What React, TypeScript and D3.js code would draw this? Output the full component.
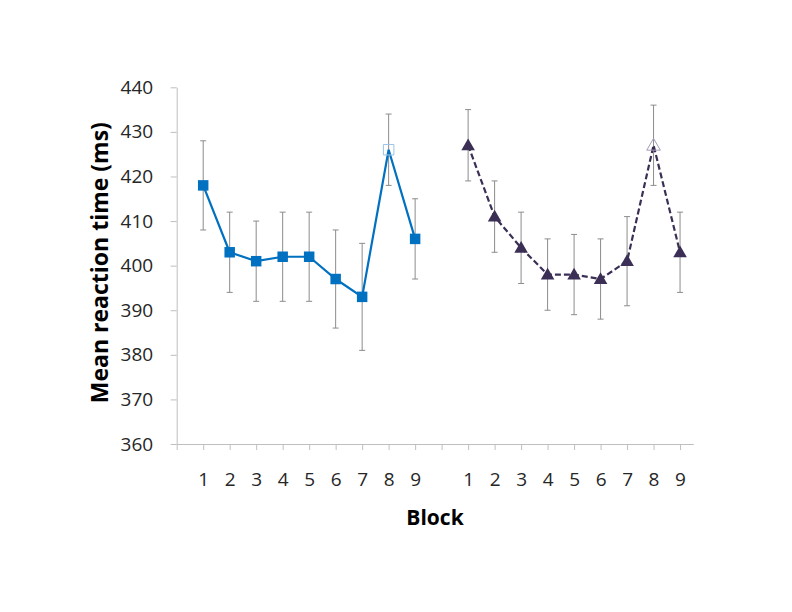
import React, { useEffect, useRef } from 'react';
import * as d3 from 'd3';

// block labels, one group of 9 per condition
const blocks = ['1', '2', '3', '4', '5', '6', '7', '8', '9'];
// x slots: an empty slot before each group
const slots = ['', ...blocks, '', ...blocks];

const meanA = [418, 403, 401, 402, 402, 397, 393, 426, 406];
const errA = [10, 9, 9, 10, 10, 11, 12, 8, 9];
const meanB = [427, 411, 404, 398, 398, 397, 401, 427, 403];
const errB = [8, 8, 8, 8, 9, 9, 10, 9, 9];

const yTicks = [360, 370, 380, 390, 400, 410, 420, 430, 440];
const hollowBlock = '8';

const App = () => {
  const ref = useRef<SVGSVGElement>(null);

  useEffect(() => {
    const svg = d3.select(ref.current);
    svg.selectAll('*').remove();

    const left = 176.7, right = 693.3, top = 87.3, bottom = 444;
    const font = '"Open Sans", sans-serif';

    const x = d3.scaleLinear().domain([0, 19.5]).range([left, right]);
    const y = d3.scaleLinear().domain([360, 440]).range([bottom, top]);

    // y axis
    const yAxis = svg.append('g')
      .attr('transform', `translate(${left},0)`)
      .call(d3.axisLeft(y).tickValues(yTicks).tickSize(6).tickPadding(17.5).tickSizeOuter(0));
    yAxis.select('.domain').attr('stroke', '#bfbfbf');
    yAxis.selectAll('.tick line').attr('stroke', '#bfbfbf');
    yAxis.selectAll('.tick text')
      .attr('font-family', font).attr('font-size', 19).attr('fill', '#262626');

    // x axis
    const xAxis = svg.append('g')
      .attr('transform', `translate(0,${bottom})`)
      .call(d3.axisBottom(x)
        .tickValues(d3.range(slots.length))
        .tickFormat((i: any) => slots[i])
        .tickSize(6).tickPadding(23).tickSizeOuter(0));
    xAxis.select('.domain').attr('stroke', '#bfbfbf');
    xAxis.selectAll('.tick line').attr('stroke', '#bfbfbf');
    xAxis.selectAll('.tick text')
      .attr('font-family', font).attr('font-size', 19).attr('fill', '#262626');

    // axis titles
    svg.append('text')
      .attr('x', (left + right) / 2).attr('y', 525)
      .attr('text-anchor', 'middle')
      .attr('font-family', font).attr('font-weight', 'bold').attr('font-size', 21)
      .attr('fill', '#000')
      .text('Block');

    svg.append('text')
      .attr('transform', `translate(108,${(top + bottom) / 2 - 3}) rotate(-90)`)
      .attr('text-anchor', 'middle')
      .attr('font-family', font).attr('font-weight', 'bold').attr('font-size', 23)
      .attr('fill', '#000')
      .text('Mean reaction time (ms)');

    const groups = [
      { mean: meanA, err: errA, offset: 1, color: '#0070c0', light: '#9dc3e6', dash: null, marker: 'square' },
      { mean: meanB, err: errB, offset: 11, color: '#3b2f55', light: '#a39cb8', dash: '6,3', marker: 'triangle' },
    ];

    groups.forEach(g => {
      const pts = blocks.map((b, i) => ({ b, i: i + g.offset, v: g.mean[i], e: g.err[i] }));

      // error bars
      const eb = svg.append('g').attr('stroke', '#8c8c8c').attr('stroke-width', 1);
      pts.forEach(p => {
        eb.append('line')
          .attr('x1', x(p.i)).attr('x2', x(p.i))
          .attr('y1', y(p.v + p.e)).attr('y2', y(p.v - p.e));
        [p.v + p.e, p.v - p.e].forEach(v => {
          eb.append('line')
            .attr('x1', x(p.i) - 3).attr('x2', x(p.i) + 3)
            .attr('y1', y(v)).attr('y2', y(v));
        });
      });

      const line = d3.line<any>().x(p => x(p.i)).y(p => y(p.v));
      svg.append('path')
        .datum(pts)
        .attr('d', line)
        .attr('fill', 'none')
        .attr('stroke', g.color)
        .attr('stroke-width', 2.2)
        .attr('stroke-dasharray', g.dash);

      const sym = d3.symbol()
        .type(g.marker === 'square' ? d3.symbolSquare : d3.symbolTriangle)
        .size(g.marker === 'square' ? 110 : 80);

      svg.selectAll(null)
        .data(pts)
        .enter()
        .append('path')
        .attr('d', sym)
        .attr('transform', p => `translate(${x(p.i)},${y(p.v) + (g.marker === 'triangle' ? 1 : 0)})`)
        .attr('fill', p => (p.b === hollowBlock ? 'none' : g.color))
        .attr('stroke', p => (p.b === hollowBlock ? g.light : 'none'))
        .attr('stroke-width', 1);
    });
  }, []);

  return (
    <svg
      ref={ref}
      width={792}
      height={612}
      style={{ position: 'absolute', left: 0, top: 0, background: '#fff' }}
    />
  );
};

export default App;
